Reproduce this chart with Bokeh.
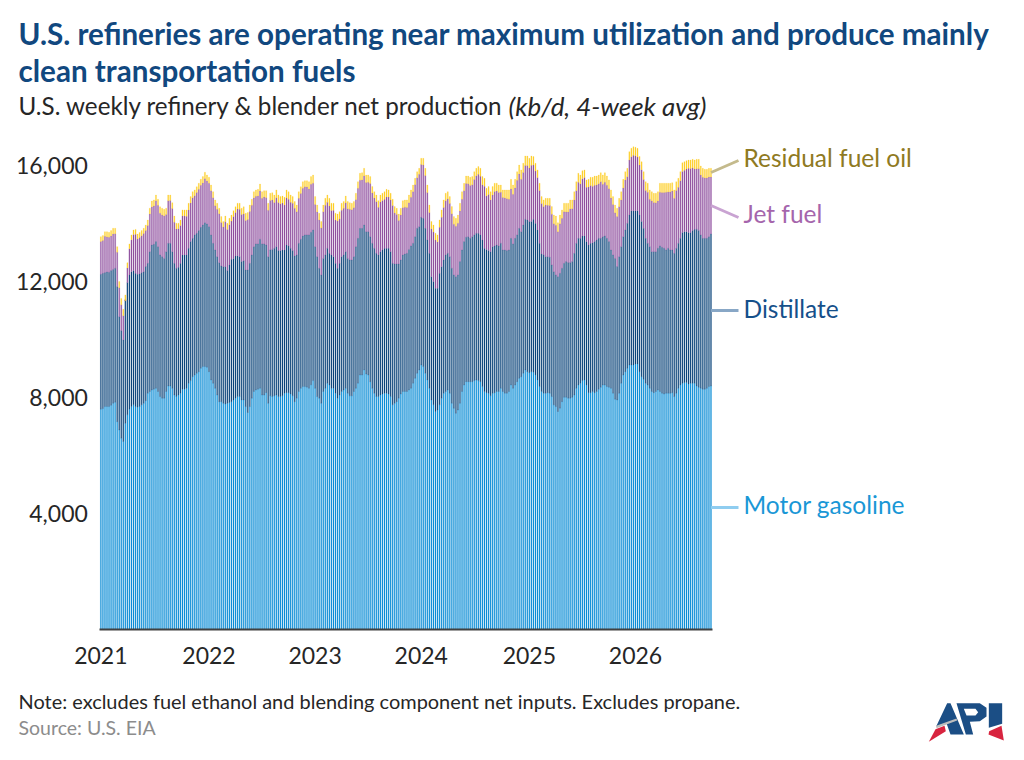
from bokeh.plotting import figure
from bokeh.models import LinearAxis, FixedTicker, Range1d, Label
from bokeh.embed import file_html
from bokeh.resources import INLINE

# Weekly stacked levels (kb/d): top of gasoline, top of distillate, top of the whole stack
motor_gasoline = [
 7580,7600,7670,7670,7670,7715,7785,7820,7150,6865,
 6580,6465,7095,7385,7580,7670,7730,7670,7650,7670,
 7730,7785,7875,8130,8190,8245,8270,8300,8190,8015,
 7960,7960,8190,8380,8380,8300,8070,8015,8070,
 8130,8270,8270,8300,8475,8565,8700,8760,8820,8875,
 8990,9050,9050,9025,8875,8590,8475,8300,8070,7840,
 7840,7785,7760,7785,7810,7840,7900,7960,8015,
 8015,7900,7900,7670,7465,7670,7960,8190,8245,8270,
 8300,8070,8070,8150,7785,8040,8015,8040,8070,8015,
 8015,8040,8130,8150,8150,8105,8040,7840,7960,8190,
 8300,8360,8360,8340,8300,8420,
 8565,8300,8015,7960,7785,8190,8300,8475,8415,
 8300,8300,8130,7960,8070,8190,8245,8300,8130,8040,
 8040,8190,8300,8475,8760,8760,8935,8795,8760,8530,
 8300,8130,8015,8015,8070,8105,8130,8130,8105,8015,
 7730,7785,7840,7960,8105,8190,8190,8190,8245,
 8300,8475,8645,8820,8935,9105,9050,8820,8590,8300,
 7900,7730,7500,7555,7730,7960,8130,8190,8245,8130,
 7785,7610,7440,7555,7785,8190,8415,8530,8530,8530,
 8530,8565,8590,8565,8530,8360,8190,8150,8130,8040,
 8130,8150,8190,8190,8300,8190,8130,8130,8190,
 8415,8300,8415,8530,8645,8700,
 8820,8935,8875,8840,8875,8855,8760,8590,8360,8190,
 8130,8130,8150,8130,8015,7730,7670,7500,7615,
 7840,7990,7990,7960,7960,7990,8070,8300,8415,8475,
 8565,8590,8415,8150,8150,8190,8150,8190,8270,
 8335,8415,8415,8360,8335,8300,8130,7925,7900,8130,
 8475,8760,8875,8990,9105,9105,9105,9140,9140,8875,
 8700,8610,8475,8415,8300,8190,8150,8190,8245,8190,
 8130,8105,8130,8130,8130,8150,8015,8130,8300,
 8415,8475,8500,8500,8450,8475,8475,8475,8380,8335,
 8300,8270,8270,8300,8360,8380,
]
distillate_top = [
 12230,12265,12290,12310,12300,12360,12400,12440,11805,10770,
 10290,9970,11350,11945,12210,12320,12360,12265,12230,12240,
 12290,12320,12500,12610,13010,13240,13265,13360,13185,12900,
 12840,12780,13010,13300,13300,13010,12610,12440,12475,
 12610,12900,12900,12900,13130,13360,13470,13590,13645,13740,
 13850,13930,14010,13965,13875,13590,13300,13070,12840,12630,
 12520,12495,12495,12360,12550,12750,12780,12860,12875,
 12840,12670,12700,12380,12380,12610,12900,13185,13280,13280,
 13440,13280,13280,13240,12840,13070,13090,13130,13185,13050,
 13050,13070,13070,13240,13210,13130,13050,12860,12900,13300,
 13440,13550,13590,13590,13590,13680,
 13760,13185,12840,12440,12210,12780,12900,13130,12955,
 12900,12840,12610,12440,12610,12840,12900,13010,12780,12725,
 12725,12840,13185,13470,13815,13815,13930,13700,13700,13530,
 13300,13130,12955,12900,13010,13070,13130,13130,13130,13010,
 12610,12590,12590,12590,12725,12900,12930,12955,13090,
 13210,13300,13530,13815,13875,14195,14160,13815,13415,12955,
 12150,11980,11750,11750,12265,12495,12725,12900,12955,12840,
 12440,12210,12150,12210,12670,13070,13360,13510,13530,13470,
 13530,13590,13645,13645,13590,13415,13130,13090,13050,13010,
 13185,13210,13240,13210,13300,13070,13070,13050,13070,
 13470,13280,13470,13590,13815,13700,
 13930,14130,14105,14050,14050,14130,13990,13760,13300,12930,
 12900,12840,12840,12820,12555,12320,12210,12150,12265,
 12440,12610,12670,12635,12635,12670,12955,13300,13470,13470,
 13550,13550,13360,13240,13300,13320,13360,13415,13470,
 13470,13530,13550,13470,13360,13070,12900,12780,12500,12840,
 13185,13530,13760,13990,14275,14425,14425,14425,14425,14275,
 14050,13815,13470,13300,13185,13010,13010,13010,13130,13210,
 13160,13130,13070,13130,13070,13070,12955,13130,13300,
 13470,13670,13700,13700,13670,13670,13740,13785,13785,13740,
 13590,13470,13470,13470,13530,13620,
]
total_top = [
 13530,13565,13700,13700,13680,13740,13820,13820,13185,11980,
 11400,11025,11520,12630,13280,13590,13760,13780,13620,13670,
 13740,13820,13930,14100,14510,14760,14795,14965,14820,14560,
 14510,14470,14510,14965,14965,14700,14240,13990,13990,
 14100,14450,14450,14450,14680,14910,15080,15140,15250,15370,
 15510,15600,15750,15655,15575,15310,15080,14795,14680,14510,
 14220,14050,14240,13990,14160,14275,14425,14560,14680,
 14680,14510,14560,14335,14360,14620,14820,15080,15140,15160,
 15345,15080,15115,15115,14680,15025,15045,14965,15140,14965,
 14910,14930,14885,15140,15080,14965,14910,14740,14620,15080,
 15250,15425,15460,15460,15425,15600,
 15655,14910,14620,14335,14050,14620,14850,14965,14850,
 14680,14680,14335,14310,14390,14680,14740,14930,14740,14700,
 14680,14740,15025,15425,15715,15735,15885,15655,15655,15600,
 15255,15080,14965,14770,14965,15025,15080,15160,15140,15025,
 14820,14565,14505,14310,14505,14770,14795,14795,14965,
 15140,15310,15540,15770,15885,16230,16230,15885,15310,14620,
 14050,13930,13645,13590,14105,14450,14795,15025,15080,14910,
 14565,14220,14160,14275,14680,15080,15370,15620,15620,15575,
 15600,15770,15885,15945,15885,15600,15540,15195,15255,15080,
 15255,15370,15370,15310,15310,15140,15140,15140,15140,
 15505,15310,15505,15770,16000,15830,
 16060,16310,16310,16230,16310,16290,16060,15830,15370,14910,
 14795,14850,14850,14850,14565,14275,14240,14010,14275,
 14450,14680,14680,14680,14795,14795,15080,15425,15715,15655,
 15805,15830,15485,15505,15575,15575,15620,15620,15655,
 15735,15655,15735,15620,15485,15140,14910,14620,14505,14850,
 15080,15505,15770,15885,16460,16575,16630,16610,16575,16290,
 16115,15770,15425,15370,15140,15080,15025,15025,15080,15370,
 15370,15370,15370,15370,15370,15390,15140,15425,15540,
 15770,16080,16115,16150,16170,16170,16195,16170,16195,16195,
 15965,15885,15850,15850,15885,15885,
]
residual_fuel_oil = [
 170,170,160,180,170,190,200,190,190,210,
 220,220,200,180,170,170,160,170,170,170,
 180,180,190,190,200,210,210,200,210,220,
 230,230,220,200,190,200,210,200,190,190,
 200,210,220,230,220,210,200,200,210,210,
 220,220,210,200,200,210,200,210,190,200,
 190,200,210,220,210,200,200,200,210,220,
 250,250,240,220,210,220,220,230,240,230,
 220,240,240,250,250,260,270,260,250,240,
 260,270,260,250,230,230,230,230,230,230,
 210,220,250,260,280,270,240,230,220,230,
 240,250,260,250,240,230,240,250,240,230,
 240,250,230,220,210,220,230,240,250,260,
 260,250,240,220,220,230,230,240,250,260,
 260,240,230,220,220,210,220,230,240,250,
 260,270,250,230,220,210,200,210,230,250,
 260,260,250,240,230,240,250,250,260,260,
 250,240,250,260,270,280,270,260,260,260,
 270,280,280,270,260,260,270,280,270,260,
 270,280,290,280,270,260,250,260,280,300,
 320,330,320,300,300,310,320,320,330,330,
 330,320,290,270,260,250,240,230,230,240,
 250,260,300,320,310,300,290,290,300,300,
 310,300,290,310,310,300,280,260,250,260,
 280,310,320,310,300,310,320,330,320,300,
 280,270,270,280,290,290,300,290,290,290,
 290,290,290,300,290,280,270,300,310,320,
 320,320,330,320,310,320,320,310,
 300,300,290,290,300,310,310,300,300,290,
 280,290,300,310,320,320,310,310,300,300,
 300,300,
]
year_ticks = [0, 53, 105, 157, 210, 262]
year_labels = ["2021", "2022", "2023", "2024", "2025", "2026"]
value_ticks = [4000, 8000, 12000, 16000]
value_labels = ["4,000", "8,000", "12,000", "16,000"]
series_names = ["Motor gasoline", "Distillate", "Jet fuel", "Residual fuel oil"]
series_colors = ["#0a8cd6", "#0a4379", "#8f4f9e", "#fdcf25"]
label_colors = ["#1a97d6", "#15508a", "#a565ac", "#8f7a22"]
leader_colors = ["#8fcdf0", "#88a7c6", "#c9a3d2", "#c4ba8c"]

n = len(motor_gasoline)
assert n == 300 and len(distillate_top) == n and len(total_top) == n and len(residual_fuel_oil) == n, (len(motor_gasoline), len(distillate_top), len(total_top), len(residual_fuel_oil))

weeks = list(range(n))
distillate = [d - g for d, g in zip(distillate_top, motor_gasoline)]
jet_fuel = [t - r - d for t, r, d in zip(total_top, residual_fuel_oil, distillate_top)]

# canvas geometry
W, H = 1008, 744
PX_PER_WEEK = 2.0405
PX_PER_UNIT = 0.029
X0_IMG, Y0_IMG = 99.35, 628.5
def X(px):  # image px -> week axis
    return -0.5 + (px - X0_IMG) / PX_PER_WEEK
def Y(py):  # image py -> value axis
    return (Y0_IMG - py) / PX_PER_UNIT

p = figure(width=W, height=H, output_backend="svg", toolbar_location=None,
           x_range=Range1d(X(0), X(W)), y_range=Range1d(Y(H), Y(0)),
           x_axis_location=None, y_axis_location=None, min_border=0,
           outline_line_color=None, background_fill_color="white", tools="")
p.grid.visible = False

src = dict(week=weeks, gas=motor_gasoline, dist=distillate, jet=jet_fuel, res=residual_fuel_oil)
p.vbar_stack(["gas", "dist", "jet", "res"], x="week", width=0.5, source=src,
             fill_color=series_colors, line_color=series_colors, line_alpha=0.22, line_width=1)

FONT = "Lato"
xa = LinearAxis(fixed_location=0, ticker=FixedTicker(ticks=year_ticks),
                major_label_overrides=dict(zip(year_ticks, year_labels)),
                bounds=(-0.5, n - 0.5), axis_line_color="#404040", axis_line_width=2,
                major_tick_line_color=None, minor_tick_line_color=None,
                major_label_text_font=FONT, major_label_text_font_size="23px",
                major_label_text_color="#262626", major_label_standoff=12)
ya = LinearAxis(fixed_location=-0.5, ticker=FixedTicker(ticks=value_ticks),
                major_label_overrides=dict(zip(value_ticks, value_labels)),
                axis_line_color=None, major_tick_line_color=None, minor_tick_line_color=None,
                major_label_text_font=FONT, major_label_text_font_size="23px",
                major_label_text_color="#262626", major_label_standoff=6)
p.add_layout(xa, "below")
p.add_layout(ya, "left")

def text(s, px, py, size, color, style="normal", align="left"):
    p.add_layout(Label(x=X(px), y=Y(py), text=s, text_font=FONT, text_font_size=f"{size}px",
                       text_color=color, text_font_style=style, text_align=align,
                       text_baseline="middle"))

TITLE = "#11487f"
text("U.S. refineries are operating near maximum utilization and produce mainly", 18, 32.5, 29.6, TITLE, "bold")
text("clean transportation fuels", 18, 69.5, 29.6, TITLE, "bold")
text("U.S. weekly refinery & blender net production", 18, 105, 24.2, "#262626")
text("(kb/d, 4-week avg)", 508, 105, 25.9, "#262626", "italic")
text("Note: excludes fuel ethanol and blending component net inputs. Excludes propane.", 18, 700, 19.95, "#262626")
text("Source: U.S. EIA", 18, 727, 19.5, "#8c8c8c")

# direct labels with leader lines
label_y = [504, 308, 213, 157]
lead_from = [507, 310, 205, 172]
lead_to = [507, 310, 217, 160]
for name, col, lcol, ly, y0, y1 in zip(series_names, label_colors, leader_colors, label_y, lead_from, lead_to):
    p.segment(X(710.5), Y(y0), X(738), Y(y1), line_color=lcol, line_width=3)
    text(name, 743, ly, 24.5, col)

# API logo
def poly(pts, color):
    p.patch([X(900 + a / 3) for a, b in pts], [Y(690 + b / 3) for a, b in pts], fill_color=color, line_color=None)
BLUE, RED = "#1b4e85", "#d8243f"
poly([(140,38),(150,38),(190,132),(150,132),(138,98),(107,108)], BLUE)
poly([(168,38),(238,38),(258,52),(258,78),(238,92),(208,94),(218,132),(196,132)], BLUE)
poly([(190,55),(225,55),(233,65),(225,75),(198,75)], "white")
poly([(265,38),(305,38),(305,100),(265,112)], BLUE)
poly([(266,122),(303,106),(310,150),(264,132)], RED)
poly([(105,116),(132,106),(136,122),(85,154)], RED)
poly([(107,106),(168,84),(170,90),(108,113)], "#bdbdbd")

open("out.html", "w").write(file_html(p, INLINE))
